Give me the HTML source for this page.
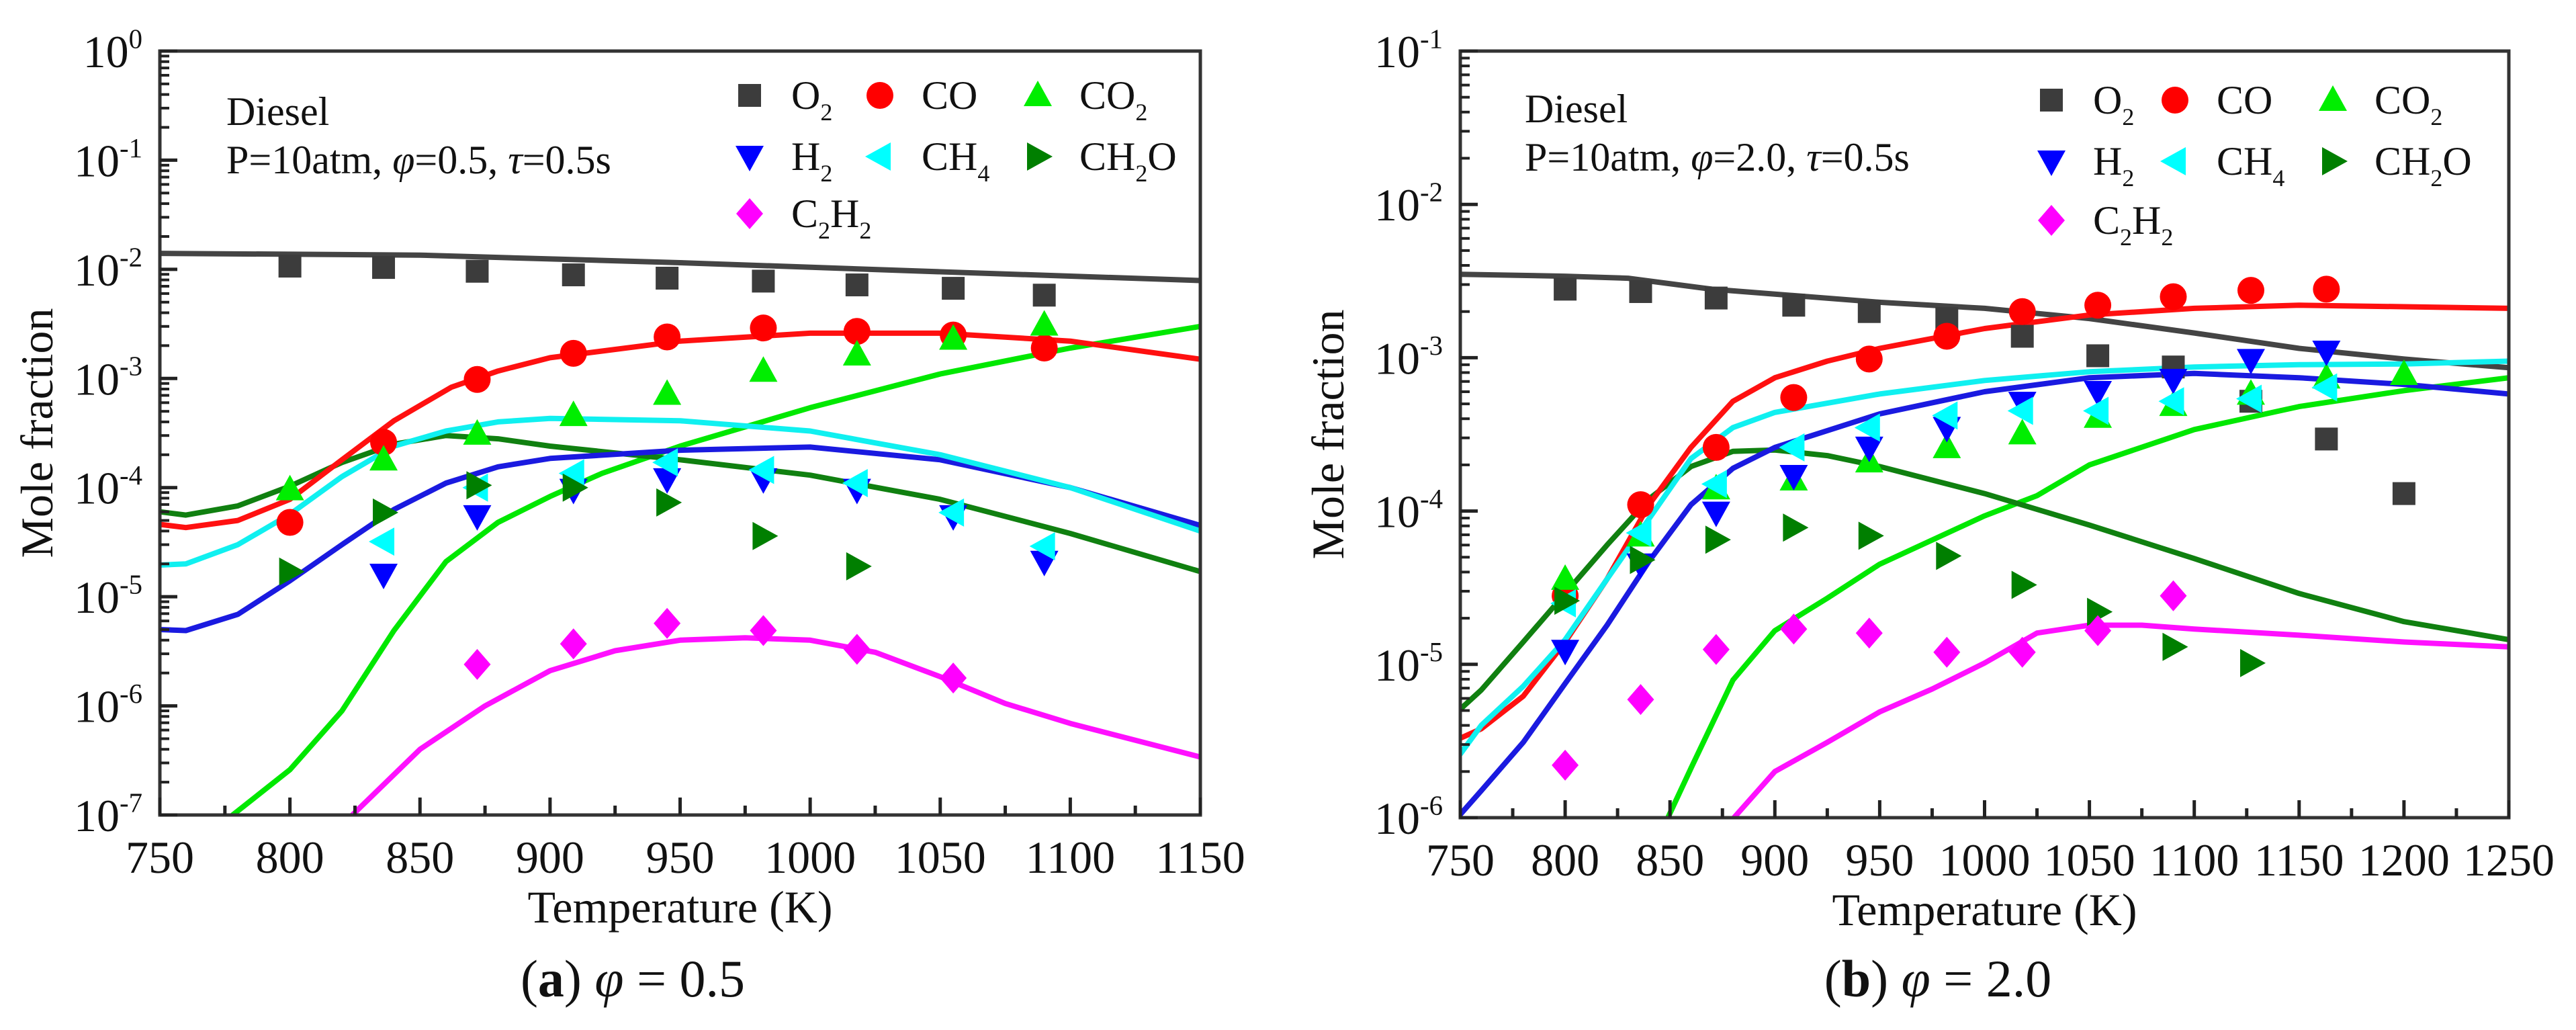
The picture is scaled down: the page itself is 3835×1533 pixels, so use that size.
<!DOCTYPE html>
<html><head><meta charset="utf-8">
<style>
html,body{margin:0;padding:0;background:#fff;}
svg{display:block;font-family:"Liberation Serif",serif;}
</style></head>
<body>
<svg id="fig" width="3835" height="1533" viewBox="0 0 3835 1533" xmlns="http://www.w3.org/2000/svg">
<rect width="3835" height="1533" fill="#fff"/>
</svg>
<script>
// ---------- Panel (a) data: phi = 0.5 ----------
const aTemps = [800, 836, 872, 909, 945, 982, 1018, 1055, 1090];
const aO2   = [1.07e-2, 1.04e-2, 9.6e-3, 8.9e-3, 8.3e-3, 7.8e-3, 7.2e-3, 6.7e-3, 5.8e-3];
const aCO   = [4.8e-5, 2.6e-4, 9.8e-4, 1.7e-3, 2.4e-3, 2.9e-3, 2.7e-3, 2.5e-3, 1.9e-3];
const aCO2  = [9.6e-5, 1.8e-4, 3.1e-4, 4.6e-4, 7.2e-4, 1.17e-3, 1.65e-3, 2.3e-3, 3.1e-3];
const aH2   = [null, 1.6e-5, 5.5e-5, 9.6e-5, 1.2e-4, 1.2e-4, 9.6e-5, 5.5e-5, 2.1e-5];
const aCH4  = [null, 3.2e-5, 1.0e-4, 1.35e-4, 1.7e-4, 1.45e-4, 1.1e-4, 5.9e-5, 2.9e-5];
const aCH2O = [1.7e-5, 5.9e-5, 1.05e-4, 1.0e-4, 7.3e-5, 3.6e-5, 1.9e-5, null, null];
const aC2H2 = [null, null, 2.4e-6, 3.7e-6, 5.7e-6, 4.9e-6, 3.3e-6, 1.8e-6, null];
// model lines (a)
const aLineT_O2 = [750, 850, 950, 1050, 1150];
const aLine_O2  = [1.4e-2, 1.35e-2, 1.15e-2, 9.5e-3, 7.9e-3];
const aLineT_CO = [750, 760, 780, 800, 820, 840, 862, 880, 900, 950, 1000, 1050, 1100, 1150];
const aLine_CO  = [4.6e-5, 4.3e-5, 5e-5, 7.8e-5, 1.8e-4, 4.1e-4, 8.3e-4, 1.17e-3, 1.55e-3, 2.2e-3, 2.6e-3, 2.6e-3, 2.2e-3, 1.5e-3];
const aLineT_CO2 = [770, 778, 800, 820, 840, 860, 880, 900, 920, 950, 1000, 1050, 1100, 1150];
const aLine_CO2  = [5e-8, 1e-7, 2.6e-7, 9e-7, 4.9e-6, 2.1e-5, 4.8e-5, 8.3e-5, 1.35e-4, 2.4e-4, 5.4e-4, 1.1e-3, 1.9e-3, 3.0e-3];
const aLineT_H2 = [750, 760, 780, 800, 820, 840, 860, 880, 900, 950, 1000, 1050, 1100, 1150];
const aLine_H2  = [5e-6, 4.9e-6, 6.9e-6, 1.4e-5, 3e-5, 6.3e-5, 1.1e-4, 1.55e-4, 1.85e-4, 2.2e-4, 2.35e-4, 1.8e-4, 1.0e-4, 4.5e-5];
const aLineT_CH4 = [750, 760, 780, 800, 820, 840, 860, 880, 900, 950, 1000, 1050, 1100, 1150];
const aLine_CH4  = [1.95e-5, 2e-5, 3e-5, 5.7e-5, 1.26e-4, 2.4e-4, 3.3e-4, 4e-4, 4.3e-4, 4.1e-4, 3.3e-4, 2e-4, 1e-4, 4e-5];
const aLineT_CH2O = [750, 760, 780, 800, 820, 840, 860, 880, 900, 950, 1000, 1050, 1100, 1150];
const aLine_CH2O  = [6e-5, 5.6e-5, 6.8e-5, 1.03e-4, 1.7e-4, 2.5e-4, 3e-4, 2.8e-4, 2.4e-4, 1.8e-4, 1.3e-4, 7.8e-5, 3.8e-5, 1.7e-5];
const aLineT_C2H2 = [815, 824, 850, 875, 900, 925, 950, 975, 1000, 1025, 1050, 1075, 1100, 1150];
const aLine_C2H2  = [5e-8, 1e-7, 4e-7, 1e-6, 2.1e-6, 3.2e-6, 4e-6, 4.2e-6, 4e-6, 3.1e-6, 1.85e-6, 1.05e-6, 6.9e-7, 3.4e-7];
const aXTicks = [750, 800, 850, 900, 950, 1000, 1050, 1100, 1150];
const aYExps  = [0, -1, -2, -3, -4, -5, -6, -7];

// ---------- Panel (b) data: phi = 2.0 ----------
const bTemps = [800, 836, 872, 909, 945, 982, 1018, 1054, 1090, 1127, 1163, 1200];
const bO2   = [2.8e-3, 2.7e-3, 2.45e-3, 2.2e-3, 2.0e-3, 1.8e-3, 1.38e-3, 1.03e-3, 8.7e-4, 5.2e-4, 2.95e-4, 1.3e-4];
const bCO   = [2.8e-5, 1.1e-4, 2.6e-4, 5.5e-4, 9.8e-4, 1.38e-3, 2e-3, 2.2e-3, 2.5e-3, 2.75e-3, 2.8e-3, null];
const bCO2  = [3.6e-5, 6.9e-5, 1.4e-4, 1.6e-4, 2.1e-4, 2.6e-4, 3.2e-4, 4.1e-4, 4.9e-4, 5.8e-4, 7.4e-4, 7.8e-4];
const bH2   = [1.23e-5, 4.5e-5, 9.8e-5, 1.7e-4, 2.6e-4, 3.5e-4, 5.1e-4, 6e-4, 7.2e-4, 9.7e-4, 1.1e-3, null];
const bCH4  = [2.5e-5, 7.2e-5, 1.5e-4, 2.6e-4, 3.5e-4, 4.2e-4, 4.5e-4, 4.5e-4, 5.2e-4, 5.4e-4, 6.4e-4, null];
const bCH2O = [2.6e-5, 4.8e-5, 6.5e-5, 7.8e-5, 6.9e-5, 5.1e-5, 3.3e-5, 2.2e-5, 1.3e-5, 1.02e-5, null, null];
const bC2H2 = [2.2e-6, 5.9e-6, 1.25e-5, 1.7e-5, 1.6e-5, 1.2e-5, 1.2e-5, 1.66e-5, 2.8e-5, null, null, null];
// model lines (b)
const bLineT_O2 = [750, 800, 830, 870, 900, 950, 1000, 1050, 1100, 1150, 1200, 1250];
const bLine_O2  = [3.5e-3, 3.4e-3, 3.3e-3, 2.8e-3, 2.6e-3, 2.3e-3, 2.1e-3, 1.8e-3, 1.45e-3, 1.15e-3, 9.8e-4, 8.6e-4];
const bLineT_CO = [750, 760, 780, 800, 820, 840, 860, 880, 900, 925, 950, 1000, 1050, 1100, 1150, 1200, 1250];
const bLine_CO  = [3.3e-6, 3.8e-6, 6.2e-6, 1.4e-5, 3.6e-5, 1.1e-4, 2.6e-4, 5.2e-4, 7.4e-4, 9.5e-4, 1.15e-3, 1.55e-3, 1.9e-3, 2.1e-3, 2.2e-3, 2.15e-3, 2.1e-3];
const bLineT_CO2 = [840, 849, 860, 880, 900, 925, 950, 1000, 1025, 1050, 1100, 1150, 1200, 1250];
const bLine_CO2  = [5e-7, 1e-6, 2.1e-6, 7.9e-6, 1.66e-5, 2.7e-5, 4.5e-5, 9.3e-5, 1.26e-4, 2.0e-4, 3.4e-4, 4.8e-4, 6.1e-4, 7.4e-4];
const bLineT_H2 = [750, 760, 780, 800, 820, 840, 860, 880, 900, 950, 1000, 1050, 1100, 1150, 1200, 1250];
const bLine_H2  = [1.05e-6, 1.5e-6, 3.1e-6, 7.5e-6, 1.8e-5, 4.7e-5, 1.1e-4, 1.9e-4, 2.6e-4, 4.3e-4, 6e-4, 7.4e-4, 7.9e-4, 7.4e-4, 6.7e-4, 5.8e-4];
const bLineT_CH4 = [750, 760, 780, 800, 820, 840, 860, 880, 900, 950, 1000, 1050, 1100, 1150, 1200, 1250];
const bLine_CH4  = [2.6e-6, 4e-6, 7.2e-6, 1.45e-5, 3.6e-5, 8.9e-5, 2.2e-4, 3.5e-4, 4.4e-4, 5.8e-4, 7.1e-4, 8.1e-4, 8.7e-4, 9e-4, 9.1e-4, 9.5e-4];
const bLineT_CH2O = [750, 760, 780, 800, 820, 840, 860, 880, 900, 925, 950, 1000, 1050, 1100, 1150, 1200, 1250];
const bLine_CH2O  = [5.1e-6, 6.8e-6, 1.4e-5, 2.9e-5, 6e-5, 1.2e-4, 1.95e-4, 2.45e-4, 2.5e-4, 2.3e-4, 1.95e-4, 1.3e-4, 8.1e-5, 4.9e-5, 2.9e-5, 1.9e-5, 1.45e-5];
const bLineT_C2H2 = [870, 880.5, 900, 925, 950, 975, 1000, 1025, 1050, 1075, 1100, 1150, 1200, 1250];
const bLine_C2H2  = [5e-7, 1e-6, 2e-6, 3.1e-6, 4.9e-6, 6.9e-6, 1.02e-5, 1.6e-5, 1.8e-5, 1.8e-5, 1.7e-5, 1.55e-5, 1.4e-5, 1.3e-5];
const bXTicks = [750, 800, 850, 900, 950, 1000, 1050, 1100, 1150, 1200, 1250];
const bYExps  = [-1, -2, -3, -4, -5, -6];

const NS = "http://www.w3.org/2000/svg";
const svg = document.getElementById('fig');
function mk(tag, attrs, parent) {
  const e = document.createElementNS(NS, tag);
  for (const k in attrs) e.setAttribute(k, attrs[k]);
  (parent || svg).appendChild(e);
  return e;
}
const COL = {O2:'#3c3c3c', CO:'#ff0000', CO2:'#00ee00', H2:'#0000ff', CH4:'#00ffff', CH2O:'#007f00', C2H2:'#ff00ff'};
const LCOL = {O2:'#444444', CO:'#ff1010', CO2:'#00e800', H2:'#1a1ae0', CH4:'#10f0f0', CH2O:'#108010', C2H2:'#ff10ff'};
const SHAPE = {O2:'square', CO:'circle', CO2:'up', H2:'down', CH4:'left', CH2O:'right', C2H2:'diamond'};

function marker(g, shape, cx, cy, color, s) {
  let el;
  if (shape === 'square') el = mk('rect', {x:cx-s*0.85, y:cy-s*0.85, width:s*1.7, height:s*1.7, fill:color}, g);
  else if (shape === 'circle') el = mk('circle', {cx:cx, cy:cy, r:s, fill:color}, g);
  else {
    let p;
    if (shape === 'up') p = [[cx, cy-s*1.1],[cx+s*1.05, cy+s*0.8],[cx-s*1.05, cy+s*0.8]];
    else if (shape === 'down') p = [[cx, cy+s*1.1],[cx+s*1.05, cy-s*0.8],[cx-s*1.05, cy-s*0.8]];
    else if (shape === 'left') p = [[cx-s*1.1, cy],[cx+s*0.8, cy-s*1.05],[cx+s*0.8, cy+s*1.05]];
    else if (shape === 'right') p = [[cx+s*1.1, cy],[cx-s*0.8, cy-s*1.05],[cx-s*0.8, cy+s*1.05]];
    else p = [[cx, cy-s*1.15],[cx+s*1.0, cy],[cx, cy+s*1.15],[cx-s*1.0, cy]];
    el = mk('polygon', {points:p.map(q=>q.join(',')).join(' '), fill:color}, g);
  }
  return el;
}

function subText(parent, x, y, parts, size, attrs) {
  const t = mk('text', Object.assign({x:x, y:y, 'font-size':size, fill:'#111'}, attrs||{}), parent);
  parts.forEach(p => {
    const ts = mk('tspan', {}, t);
    if (p[1] === 'sub') { ts.setAttribute('font-size', size*0.6); ts.setAttribute('dy', size*0.28); }
    else if (p[1] === 'back') { ts.setAttribute('dy', -size*0.28); }
    else if (p[1] === 'sup') { ts.setAttribute('font-size', size*0.6); ts.setAttribute('dy', -size*0.42); }
    else if (p[1] === 'it') { ts.setAttribute('font-style', 'italic'); }
    ts.textContent = p[0];
  });
  return t;
}

function drawPanel(cfg) {
  const g = mk('g', {});
  
  
  const {L, R, T, B, xmin, xmax, ymaxExp, yminExp} = cfg;
  const xs = v => L + (v - xmin) / (xmax - xmin) * (R - L);
  const ys = v => T + (ymaxExp - Math.log10(v)) / (ymaxExp - yminExp) * (B - T);
  const clipId = 'clip-' + cfg.name;
  const defs = mk('defs', {}, g);
  const cp = mk('clipPath', {id: clipId}, defs);
  mk('rect', {x:L, y:T, width:R-L, height:B-T}, cp);

  const lg = mk('g', {'clip-path':'url(#'+clipId+')'}, g);
  
  
  cfg.lines.forEach(ln => {
    const pts = ln.t.map((t, i) => xs(t).toFixed(1) + ',' + ys(ln.v[i]).toFixed(1)).join(' ');
    const pl = mk('polyline', {points:pts, fill:'none', stroke:LCOL[ln.sp], 'stroke-width':8, 'stroke-linejoin':'round', 'stroke-linecap':'round'}, lg);
    
    
  });

  const order = ['O2','CO','CO2','H2','CH4','CH2O','C2H2'];
  order.forEach(sp => {
    const mg = mk('g', {}, g);
    
    
    cfg.temps.forEach((t, i) => {
      const v = cfg.data[sp][i];
      if (v == null) return;
      const m = marker(mg, SHAPE[sp], xs(t), ys(v), COL[sp], 20);
      
      
    });
  });

  const fr = mk('rect', {x:L, y:T, width:R-L, height:B-T, fill:'none', stroke:'#333', 'stroke-width':5}, g);
  
  

  const xt = mk('g', {}, g);
  
  
  cfg.xticks.forEach((v, i) => {
    const x = xs(v);
    mk('line', {x1:x, y1:B, x2:x, y2:B-26, stroke:'#222', 'stroke-width':5}, xt);
    if (i < cfg.xticks.length - 1) {
      const xm = xs(v + 25);
      mk('line', {x1:xm, y1:B, x2:xm, y2:B-14, stroke:'#222', 'stroke-width':5}, xt);
    }
    const lb = mk('text', {x:x, y:B+86, 'font-size':68, 'text-anchor':'middle', fill:'#111'}, xt);
    
    
    lb.textContent = v;
  });
  const yt = mk('g', {}, g);
  
  
  cfg.yexps.forEach(e => {
    const y = ys(Math.pow(10, e));
    mk('line', {x1:L, y1:y, x2:L+26, y2:y, stroke:'#222', 'stroke-width':5}, yt);
    if (e > yminExp) {
      for (let k = 2; k <= 9; k++) {
        const ym = ys(k * Math.pow(10, e - 1));
        mk('line', {x1:L, y1:ym, x2:L+14, y2:ym, stroke:'#222', 'stroke-width':4}, yt);
      }
    }
    const lb = subText(yt, L - 26, y + 24, [['10',''],[String(e),'sup']], 68, {'text-anchor':'end'});
    
    
  });

  const xtTitle = mk('text', {x:(L+R)/2, y:B+160, 'font-size':68, 'text-anchor':'middle', fill:'#111'}, g);
  
  
  xtTitle.textContent = 'Temperature (K)';
  const ytTitle = mk('text', {x:0, y:0, 'font-size':68, 'text-anchor':'middle', fill:'#111', transform:'translate(' + (cfg.ytx) + ',' + ((T+B)/2) + ') rotate(-90)'}, g);
  
  
  ytTitle.textContent = 'Mole fraction';

  const an1 = mk('text', {x:cfg.annX, y:cfg.annY, 'font-size':60, fill:'#111'}, g);
  
  
  an1.textContent = 'Diesel';
  const an2 = subText(g, cfg.annX, cfg.annY + 72, [['P=10atm, ',''],['φ','it'],['=' + cfg.phi + ', ',''],['τ','it'],['=0.5s','']], 60);
  
  

  const lgd = mk('g', {}, g);
  
  
  const entries = [
    ['O2', 0, 0, [['O',''],['2','sub']]],
    ['CO', 1, 0, [['CO','']]],
    ['CO2', 2, 0, [['CO',''],['2','sub']]],
    ['H2', 0, 1, [['H',''],['2','sub']]],
    ['CH4', 1, 1, [['CH',''],['4','sub']]],
    ['CH2O', 2, 1, [['CH',''],['2','sub'],['O','back']]],
    ['C2H2', 0, 2, [['C',''],['2','sub'],['H','back'],['2','sub']]]
  ];
  entries.forEach(en => {
    const eg = mk('g', {}, lgd);
    
    
    const mx = cfg.legX[en[1]], my = cfg.legY[en[2]];
    marker(eg, SHAPE[en[0]], mx, my, COL[en[0]], 20);
    subText(eg, mx + 62, my + 20, en[3], 60);
  });

  const cap = mk('text', {x:cfg.capX, y:1483, 'font-size':78, 'text-anchor':'middle', fill:'#111'}, svg);
  
  
  [['(',''],[cfg.letter,'b'],[') ',''],['φ','it'],[' = ' + cfg.phi,'']].forEach(p => {
    const ts = mk('tspan', {}, cap);
    if (p[1] === 'b') ts.setAttribute('font-weight', 'bold');
    if (p[1] === 'it') ts.setAttribute('font-style', 'italic');
    ts.textContent = p[0];
  });
}

drawPanel({
  name:'panel-a', letter:'a', phi:'0.5',
  L:238, R:1787, T:76, B:1213, xmin:750, xmax:1150, ymaxExp:0, yminExp:-7,
  xticks:aXTicks, yexps:aYExps, ytx:78,
  temps:aTemps,
  data:{O2:aO2, CO:aCO, CO2:aCO2, H2:aH2, CH4:aCH4, CH2O:aCH2O, C2H2:aC2H2},
  lines:[
    {sp:'O2', t:aLineT_O2, v:aLine_O2},
    {sp:'CO2', t:aLineT_CO2, v:aLine_CO2},
    {sp:'C2H2', t:aLineT_C2H2, v:aLine_C2H2},
    {sp:'CH2O', t:aLineT_CH2O, v:aLine_CH2O},
    {sp:'H2', t:aLineT_H2, v:aLine_H2},
    {sp:'CH4', t:aLineT_CH4, v:aLine_CH4},
    {sp:'CO', t:aLineT_CO, v:aLine_CO}
  ],
  annX:337, annY:186,
  legX:[1116, 1310, 1545], legY:[142, 233, 318],
  capX:942
});
drawPanel({
  name:'panel-b', letter:'b', phi:'2.0',
  L:2174, R:3735, T:76, B:1217, xmin:750, xmax:1250, ymaxExp:-1, yminExp:-6,
  xticks:bXTicks, yexps:bYExps, ytx:2000,
  temps:bTemps,
  data:{O2:bO2, CO:bCO, CO2:bCO2, H2:bH2, CH4:bCH4, CH2O:bCH2O, C2H2:bC2H2},
  lines:[
    {sp:'O2', t:bLineT_O2, v:bLine_O2},
    {sp:'CO2', t:bLineT_CO2, v:bLine_CO2},
    {sp:'C2H2', t:bLineT_C2H2, v:bLine_C2H2},
    {sp:'CH2O', t:bLineT_CH2O, v:bLine_CH2O},
    {sp:'H2', t:bLineT_H2, v:bLine_H2},
    {sp:'CO', t:bLineT_CO, v:bLine_CO},
    {sp:'CH4', t:bLineT_CH4, v:bLine_CH4}
  ],
  annX:2270, annY:182,
  legX:[3054, 3238, 3473], legY:[149, 240, 328],
  capX:2885
});
</script>
</body></html>
